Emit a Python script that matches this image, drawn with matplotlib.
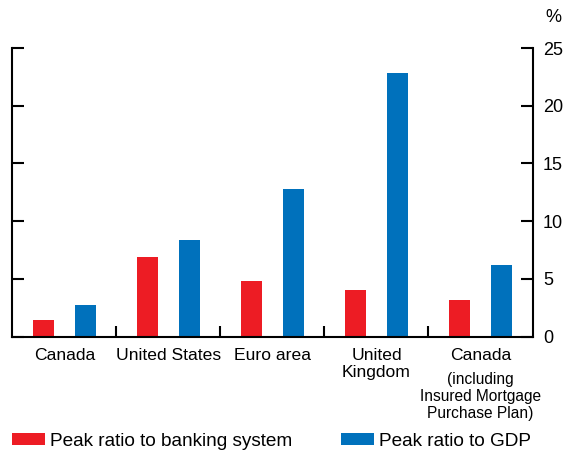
import matplotlib
matplotlib.use("Agg")
import matplotlib.pyplot as plt
from matplotlib.patches import Patch
import matplotlib.transforms as mtransforms

categories = ["Canada", "United States", "Euro area", "United\nKingdom", "Canada"]
sub_note = "(including\nInsured Mortgage\nPurchase Plan)"
banking = [1.4, 6.9, 4.8, 4.0, 3.2]
gdp = [2.7, 8.4, 12.8, 22.8, 6.2]
yticks = [0, 5, 10, 15, 20, 25]
legend_labels = ["Peak ratio to banking system", "Peak ratio to GDP"]

RED = "#ED1C24"
BLUE = "#0071BC"

plt.rcParams['font.family'] = ['Liberation Sans', 'DejaVu Sans']

W, H = 568, 455
fig = plt.figure(figsize=(W / 100, H / 100), dpi=100)
ax = fig.add_axes([12.4 / W, 1 - 336.5 / H, (532.5 - 12.4) / W, (336.5 - 48) / H])

x = list(range(len(categories)))
bw = 0.2
ax.bar([i - 0.2 for i in x], banking, width=bw, color=RED)
ax.bar([i + 0.2 for i in x], gdp, width=bw, color=BLUE)

ax.set_xlim(-0.5, len(categories) - 0.5)
ax.set_ylim(0, 25)
ax.set_yticks(yticks)
ax.tick_params(axis='y', left=True, right=True, labelleft=False, labelright=True,
               direction='in', length=8.5, width=1.5, labelsize=13, pad=7.5)

ax.set_xticks(x)
ax.set_xticklabels(categories, fontsize=12.6, linespacing=1.2)
ax.tick_params(axis='x', which='major', length=0, pad=8)
ax.set_xticks([i + 0.5 for i in x[:-1]], minor=True)
ax.tick_params(axis='x', which='minor', direction='in', length=8, width=1.5)

for s in ['left', 'right', 'bottom']:
    ax.spines[s].set_linewidth(1.5)
ax.spines['top'].set_visible(False)

trans = mtransforms.blended_transform_factory(ax.transData, fig.transFigure)
ax.text(4, 1 - 372 / H, sub_note, transform=trans, ha='center', va='top',
        fontsize=11.2, linespacing=1.15)

fig.text(553 / W, 1 - 18 / H, "%", ha='center', va='center', fontsize=13)

handles = [Patch(facecolor=RED), Patch(facecolor=BLUE)]
fig.legend(handles, legend_labels, loc='center left', ncol=2,
           bbox_to_anchor=(12 / W, 1 - 441 / H), frameon=False, fontsize=13.7,
           borderpad=0, borderaxespad=0, handlelength=1.74, handleheight=0.63,
           handletextpad=0.26, columnspacing=2.57)

fig.savefig("out.png", dpi=100)
